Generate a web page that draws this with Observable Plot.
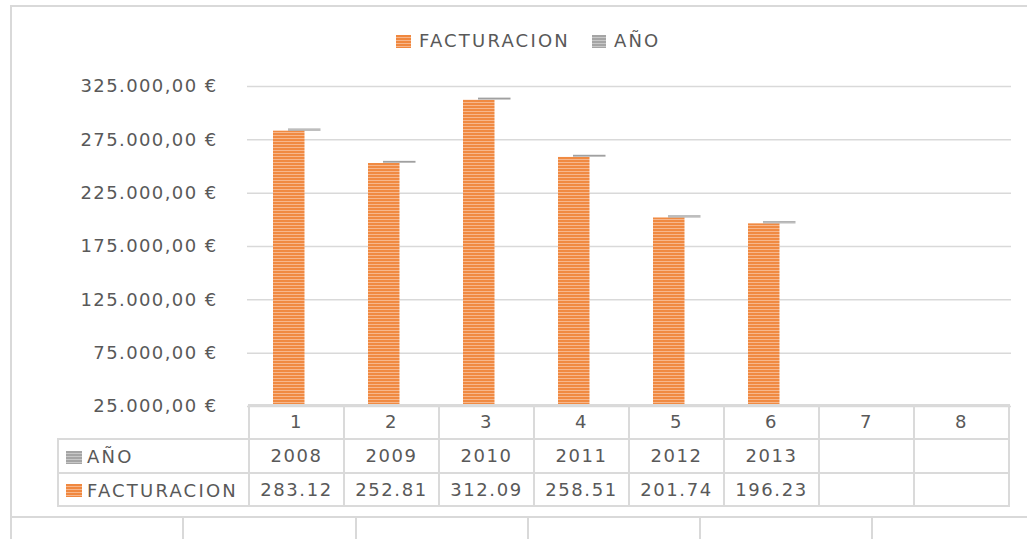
<!DOCTYPE html>
<html>
<head>
<meta charset="utf-8">
<script src="https://cdn.jsdelivr.net/npm/d3@7"></script>
<script src="https://cdn.jsdelivr.net/npm/@observablehq/plot@0.6"></script>
<style>
  html, body { margin: 0; padding: 0; background: #fff; }
  #wrap { position: relative; width: 1027px; height: 539px; overflow: hidden; background: #fff;
          font-family: "DejaVu Sans", Verdana, sans-serif; color: #595959; }
  #wrap svg { position: absolute; left: 0; top: 0; overflow: visible; }
  .abs { position: absolute; box-sizing: border-box; }
  .cell { position: absolute; box-sizing: border-box; border: 2px solid #dadada; font-size: 18px;
          letter-spacing: 1.6px; text-align: center; white-space: nowrap; }
  .sw { display: inline-block; vertical-align: middle; }
  .legend { position: absolute; top: 27px; left: 396px; font-size: 18px; letter-spacing: 2.2px; white-space: nowrap; line-height: 26px; }
</style>
</head>
<body>
<div id="wrap"></div>
<script>
// ---- data ----
const categories = [1, 2, 3, 4, 5, 6, 7, 8];
const years = [2008, 2009, 2010, 2011, 2012, 2013];
const facturacion = [283.12, 252.81, 312.09, 258.51, 201.74, 196.23]; // miles de €
const yTicks = [25000, 75000, 125000, 175000, 225000, 275000, 325000];
const seriesNames = ["FACTURACION", "AÑO"];
const seriesColors = ["#F0883F", "#A5A5A5"];

const rows = years.map((y, i) => ({cat: categories[i], fact: facturacion[i] * 1000, year: y}));

const es = d3.formatLocale({decimal: ",", thousands: ".", grouping: [3], currency: ["", " €"]});
const fmtEuro = es.format("$,.2f");

const wrap = document.getElementById("wrap");

// outer chart border + spreadsheet cells below
const border = document.createElement("div");
border.className = "abs";
Object.assign(border.style, {left: "10px", top: "5px", width: "1030px", height: "513px", border: "2px solid #d9d9d9"});
wrap.appendChild(border);
const leftLine = document.createElement("div");
leftLine.className = "abs";
Object.assign(leftLine.style, {left: "10px", top: "517px", width: "2px", height: "30px", background: "#d9d9d9"});
wrap.appendChild(leftLine);
[183, 356, 528, 700, 872].forEach(x => {
  const d = document.createElement("div");
  d.className = "abs";
  Object.assign(d.style, {left: (x - 1) + "px", top: "517px", width: "2px", height: "30px", background: "#d9d9d9"});
  wrap.appendChild(d);
});

const plot = Plot.plot({
  width: 1027,
  height: 410,
  marginTop: 86,
  marginBottom: 4,
  marginLeft: 247,
  marginRight: 16,
  style: {fontFamily: "DejaVu Sans, Verdana, sans-serif", fontSize: "18px", color: "#595959", letterSpacing: "1.4px", background: "transparent"},
  x: {type: "band", domain: categories, padding: 0, axis: null},
  y: {domain: [25000, 325000], axis: null, label: null},
  marks: [
    Plot.ruleY(yTicks, {stroke: "#d9d9d9", strokeWidth: 1.5}),
    Plot.axisY({ticks: yTicks, tickFormat: fmtEuro, tickSize: 0, tickPadding: 30, fill: "#595959", label: null}),
    Plot.barY(rows, {x: "cat", y1: 25000, y2: "fact", fill: "url(#stripeO)", insetLeft: 24, insetRight: 39.5}),
    Plot.barY(rows, {x: "cat", y1: "fact", y2: d => d.fact + d.year, fill: "url(#stripeG)", insetLeft: 39, insetRight: 23.5})
  ]
});
d3.select(plot).insert("defs", ":first-child").html(`
  <pattern id="stripeO" patternUnits="userSpaceOnUse" width="8" height="3">
    <rect width="8" height="3" fill="#F08A42"/>
    <rect y="0" width="8" height="1" fill="#F7B78C"/>
  </pattern>
  <pattern id="stripeG" patternUnits="userSpaceOnUse" width="8" height="3">
    <rect width="8" height="3" fill="#A0A0A0"/>
    <rect y="0" width="8" height="1" fill="#BDBDBD"/>
  </pattern>`);
wrap.appendChild(plot);

// legend
const swatch = (c, w, h) => `<span class="sw" style="width:${w}px;height:${h}px;background:repeating-linear-gradient(to bottom, ${c} 0 2px, ${c === seriesColors[0] ? "#F7B78C" : "#C8C8C8"} 2px 3px);"></span>`;
const legend = document.createElement("div");
legend.className = "legend";
legend.innerHTML = `${swatch(seriesColors[0], 15, 13)}<span style="margin-left:8px;vertical-align:middle">${seriesNames[0]}</span>` +
  `<span style="display:inline-block;width:22px"></span>${swatch(seriesColors[1], 14, 13)}<span style="margin-left:8px;vertical-align:middle">${seriesNames[1]}</span>`;
wrap.appendChild(legend);

// data table aligned to the plot's x scale
const xs = plot.scale("x");
const bw = xs.bandwidth;
const rowTop = [405, 439, 472.5];
const rowH = 33.6;
function cell(left, top, width, height, html, align) {
  const d = document.createElement("div");
  d.className = "cell";
  Object.assign(d.style, {left: (left - 1) + "px", top: (top - 1) + "px", width: (width + 2) + "px", height: (height + 2) + "px",
    lineHeight: (height - 2) + "px", textAlign: align || "center"});
  d.innerHTML = html;
  wrap.appendChild(d);
}
categories.forEach((c, i) => {
  const left = xs.apply(c);
  cell(left, rowTop[0], bw, rowH, String(c));
  cell(left, rowTop[1], bw, rowH, i < years.length ? String(years[i]) : "");
  cell(left, rowTop[2], bw, rowH, i < facturacion.length ? facturacion[i].toFixed(2) : "");
});
const labelLeft = 58;
const labelW = xs.apply(categories[0]) - labelLeft;
const lab = (i) => `<span style="margin-left:7px"></span>${swatch(seriesColors[i], 16, 13)}<span style="margin-left:5px;vertical-align:middle;letter-spacing:2.2px">${seriesNames[i]}</span>`;
cell(labelLeft, rowTop[1], labelW, rowH, lab(1), "left");
cell(labelLeft, rowTop[2], labelW, rowH, lab(0), "left");
</script>
</body>
</html>
